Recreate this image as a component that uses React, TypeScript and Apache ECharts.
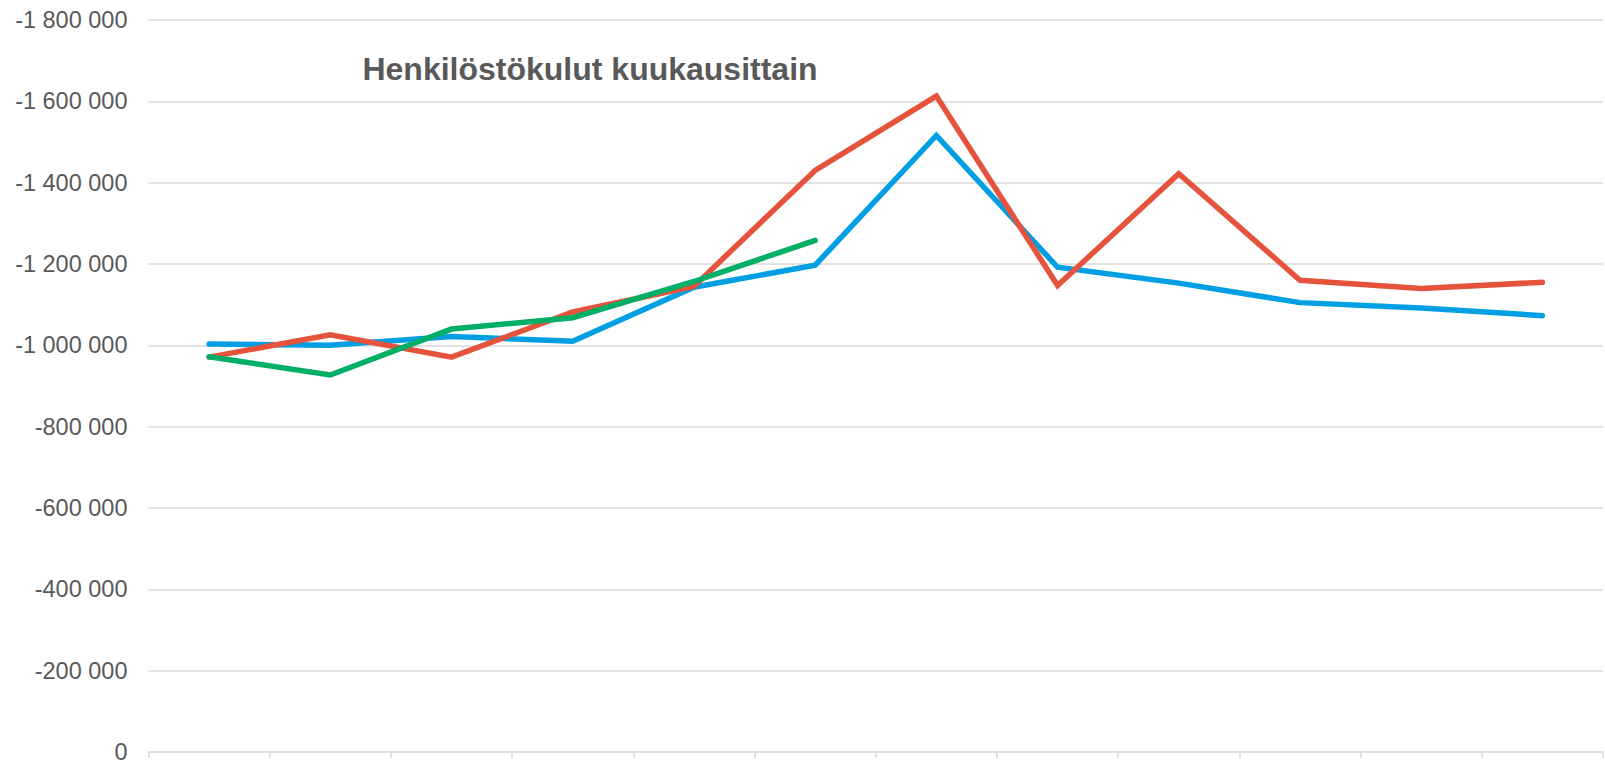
import React, { useEffect, useRef } from "react";
import * as echarts from "echarts";

const months = ["Tammi", "Helmi", "Maalis", "Huhti", "Touko", "Kesä", "Heinä", "Elo", "Syys", "Loka", "Marras", "Joulu"];
const series2022 = [-1003000, -1000000, -1022000, -1010000, -1143000, -1197000, -1516000, -1192000, -1153000, -1105000, -1092000, -1073000];
const series2023 = [-971000, -1026000, -971000, -1082000, -1145000, -1430000, -1613000, -1147000, -1422000, -1160000, -1140000, -1155000];
const series2024 = [-972000, -927000, -1040000, -1068000, -1157000, -1258000];
const seriesNames = ["2022", "2023", "2024"];
const colors = ["#009FE3", "#E5533C", "#00AF66"];
const titleText = "Henkilöstökulut kuukausittain";

function fmt(v: number): string {
  if (v === 0) return "0";
  const s = Math.abs(v).toString().replace(/\B(?=(\d{3})+(?!\d))/g, " ");
  return (v < 0 ? "-" : "") + s;
}

export default function App() {
  const ref = useRef<HTMLDivElement>(null);
  useEffect(() => {
    if (!ref.current) return;
    const chart = echarts.init(ref.current, undefined, { renderer: "svg" });
    const data = [series2022, series2023, series2024];
    chart.setOption({
      animation: false,
      backgroundColor: "#ffffff",
      graphic: [
        {
          type: "text",
          x: 590,
          y: 69,
          style: {
            text: titleText,
            font: "bold 32px 'Liberation Sans', Arial, sans-serif",
            fill: "#595959",
            align: "center",
            verticalAlign: "middle",
          },
        },
      ],
      grid: { left: 148.5, right: 2, top: 20, bottom: 5, containLabel: false },
      xAxis: {
        type: "category",
        data: months,
        boundaryGap: true,
        axisLine: { show: true, lineStyle: { color: "#d9d9d9", width: 1.5 } },
        axisTick: { show: true, length: 6, lineStyle: { color: "#d9d9d9", width: 1.5 } },
        axisLabel: { show: false },
        splitLine: { show: false },
      },
      yAxis: {
        type: "value",
        inverse: true,
        min: -1800000,
        max: 0,
        interval: 200000,
        axisLine: { show: false },
        axisTick: { show: false },
        axisLabel: {
          formatter: (v: number) => fmt(v),
          color: "#595959",
          fontSize: 23.5,
          fontFamily: "'Liberation Sans', Arial, sans-serif",
          margin: 21,
        },
        splitLine: { lineStyle: { color: "#d9d9d9", width: 1.5 } },
      },
      series: data.map((d, i) => ({
        name: seriesNames[i],
        type: "line",
        data: d,
        symbol: "none",
        lineStyle: { color: colors[i], width: 5.5, cap: "round", join: "miter" },
        itemStyle: { color: colors[i] },
        z: 2 + i,
      })),
    });
    return () => chart.dispose();
  }, []);
  return <div ref={ref} style={{ position: "absolute", left: 0, top: 0, width: 1605, height: 764 }} />;
}
